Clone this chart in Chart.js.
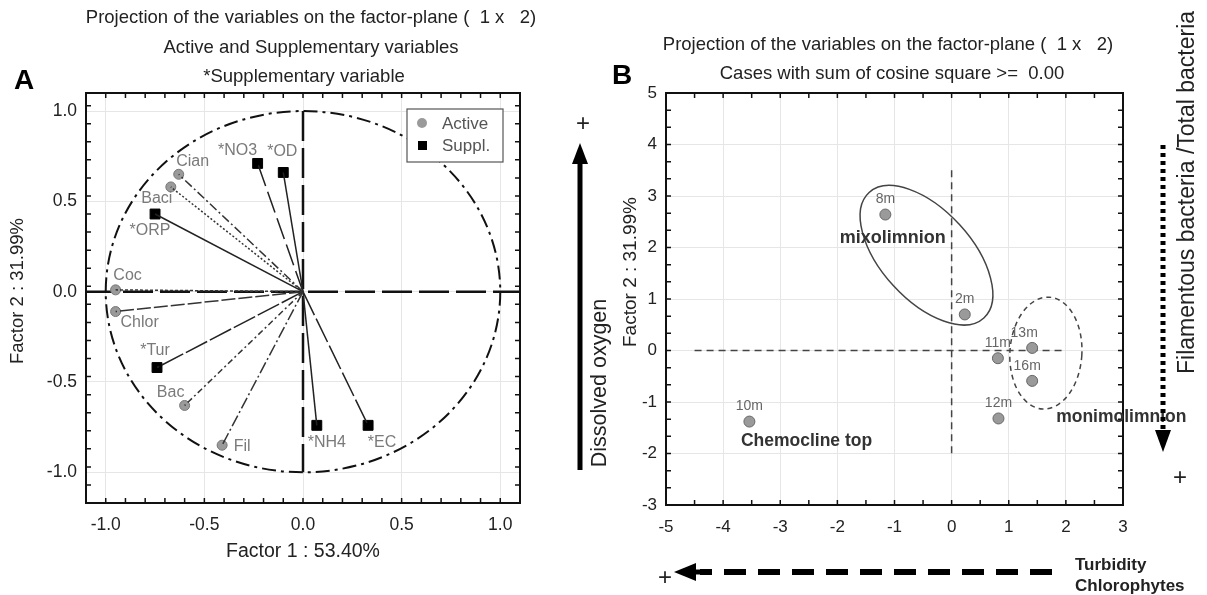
<!DOCTYPE html>
<html>
<head>
<meta charset="utf-8">
<script src="https://cdn.jsdelivr.net/npm/chart.js@4/dist/chart.umd.min.js"></script>
<style>
  body { margin: 0; background: #fff; width: 1207px; height: 595px; overflow: hidden; position: relative; }
  #chartA { position: absolute; left: 0; top: 0; }
  #chartB { position: absolute; left: 560px; top: 0; }
</style>
</head>
<body>
<canvas id="chartA" width="560" height="595"></canvas>
<canvas id="chartB" width="647" height="595"></canvas>
<script>
// PANEL A - variables
const activeNames = ['Cian', 'Baci', 'Coc', 'Chlor', 'Bac', 'Fil'];
const activeF1 = [-0.63, -0.67, -0.95, -0.95, -0.60, -0.41];
const activeF2 = [0.65, 0.58, 0.01, -0.11, -0.63, -0.85];
const supplNames = ['*NO3', '*OD', '*ORP', '*Tur', '*NH4', '*EC'];
const supplF1 = [-0.23, -0.10, -0.75, -0.74, 0.07, 0.33];
const supplF2 = [0.71, 0.66, 0.43, -0.42, -0.74, -0.74];
const ticksA = [-1.0, -0.5, 0.0, 0.5, 1.0];

// PANEL B - cases
const caseNames = ['8m', '2m', '11m', '13m', '16m', '12m', '10m'];
const caseF1 = [-1.16, 0.23, 0.81, 1.41, 1.41, 0.82, -3.54];
const caseF2 = [2.64, 0.70, -0.15, 0.05, -0.59, -1.32, -1.38];
const ticksBx = [-5, -4, -3, -2, -1, 0, 1, 2, 3];
const ticksBy = [-3, -2, -1, 0, 1, 2, 3, 4, 5];

// styles
const activeDash = [[9, 3, 2, 3], [2, 2], [3, 2], [14, 3], [6, 3, 2, 3], [12, 3, 2, 3]];
const supplDash = [[22, 6], [], [], [24, 3], [], [26, 4]];
const activeLabelOff = [[14, -13], [-14, 12], [12, -14], [24, 11], [-14, -13], [20, 1]];
const supplLabelOff = [[-20, -13], [-1, -21], [-5, 17], [-2, -17], [10, 17], [14, 17]];
const caseLabelDx = [0, 0, 0, -8, -5, 0, 0];

const FONT = '"Liberation Sans", Arial, sans-serif';
Chart.defaults.font.family = FONT;
Chart.defaults.color = '#222';

function txt(ctx, s, x, y, size, color, opt) {
    opt = opt || {};
    ctx.save();
    ctx.font = (opt.bold ? 'bold ' : '') + size + 'px ' + FONT;
    ctx.fillStyle = color;
    ctx.textAlign = opt.align || 'center';
    ctx.textBaseline = 'middle';
    ctx.translate(x, y);
    if (opt.rot) ctx.rotate(opt.rot);
    ctx.fillText(s, 0, 0);
    ctx.restore();
}

function frameAndTicks(chart, xStep, yStep) {
    const {ctx, chartArea: a, scales: {x, y}} = chart;
    ctx.save();
    ctx.strokeStyle = '#111';
    ctx.lineWidth = 1.5;
    ctx.beginPath();
    for (let v = x.min; v <= x.max + 1e-9; v += xStep) {
        const px = x.getPixelForValue(v);
        ctx.moveTo(px, a.bottom); ctx.lineTo(px, a.bottom - 5);
        ctx.moveTo(px, a.top); ctx.lineTo(px, a.top + 5);
    }
    for (let v = y.min; v <= y.max + 1e-9; v += yStep) {
        const py = y.getPixelForValue(v);
        ctx.moveTo(a.left, py); ctx.lineTo(a.left + 5, py);
        ctx.moveTo(a.right, py); ctx.lineTo(a.right - 5, py);
    }
    ctx.stroke();
    ctx.lineWidth = 2;
    ctx.strokeRect(a.left, a.top, a.right - a.left, a.bottom - a.top);
    ctx.restore();
}

function fixedTicks(values) {
    return scale => { scale.ticks = values.map(v => ({value: v})); };
}

// ---------- CHART A ----------
const setsA = [];
activeNames.forEach((n, i) => setsA.push({
    type: 'line', data: [{x: 0, y: 0}, {x: activeF1[i], y: activeF2[i]}],
    borderColor: '#333', borderWidth: 1.5, borderDash: activeDash[i], pointRadius: 0
}));
supplNames.forEach((n, i) => setsA.push({
    type: 'line', data: [{x: 0, y: 0}, {x: supplF1[i], y: supplF2[i]}],
    borderColor: '#222', borderWidth: 1.5, borderDash: supplDash[i], pointRadius: 0
}));
setsA.push({
    label: 'Active', data: activeF1.map((v, i) => ({x: v, y: activeF2[i]})),
    pointStyle: 'circle', pointRadius: 5, backgroundColor: '#9a9a9a', borderColor: '#777', borderWidth: 1
});
setsA.push({
    label: 'Suppl.', data: supplF1.map((v, i) => ({x: v, y: supplF2[i]})),
    pointStyle: 'rect', pointRadius: 7, backgroundColor: '#000', borderColor: '#000', borderWidth: 1
});

const decorA = {
    id: 'decorA',
    beforeDatasetsDraw(chart) {
        const {ctx, chartArea: a, scales: {x, y}} = chart;
        const x0 = x.getPixelForValue(0), y0 = y.getPixelForValue(0);
        const rx = x.getPixelForValue(1) - x0, ry = y0 - y.getPixelForValue(1);
        ctx.save();
        ctx.strokeStyle = '#111';
        ctx.lineWidth = 2;
        ctx.setLineDash([14, 5, 3, 5]);
        ctx.beginPath();
        ctx.ellipse(x0, y0, rx, ry, 0, 0, Math.PI * 2);
        ctx.stroke();
        ctx.lineWidth = 2.5;
        ctx.setLineDash([30, 7]);
        ctx.beginPath();
        ctx.moveTo(x0, y.getPixelForValue(1)); ctx.lineTo(x0, y.getPixelForValue(-1));
        ctx.moveTo(a.left, y0); ctx.lineTo(a.right, y0);
        ctx.stroke();
        ctx.restore();
    },
    afterDraw(chart) {
        const {ctx} = chart;
        frameAndTicks(chart, 0.1, 0.1);
        const nA = activeNames.length + supplNames.length;
        const act = chart.getDatasetMeta(nA).data;
        const sup = chart.getDatasetMeta(nA + 1).data;
        act.forEach((p, i) => txt(ctx, activeNames[i], p.x + activeLabelOff[i][0], p.y + activeLabelOff[i][1], 16, '#7a7a7a'));
        sup.forEach((p, i) => txt(ctx, supplNames[i], p.x + supplLabelOff[i][0], p.y + supplLabelOff[i][1], 16, '#7a7a7a'));

        // legend
        ctx.save();
        ctx.fillStyle = '#fff';
        ctx.fillRect(407, 109, 96, 53);
        ctx.strokeStyle = '#555';
        ctx.lineWidth = 1.2;
        ctx.strokeRect(407, 109, 96, 53);
        ctx.fillStyle = '#9a9a9a';
        ctx.beginPath(); ctx.arc(422, 123, 5, 0, Math.PI * 2); ctx.fill();
        ctx.fillStyle = '#000';
        ctx.fillRect(418, 141, 9, 9);
        ctx.restore();
        txt(ctx, 'Active', 442, 124, 17, '#555', {align: 'left'});
        txt(ctx, 'Suppl.', 442, 146, 17, '#555', {align: 'left'});

        // titles
        txt(ctx, 'Projection of the variables on the factor-plane (  1 x   2)', 311, 18, 18.5, '#222');
        txt(ctx, 'Active and Supplementary variables', 311, 48, 18.5, '#222');
        txt(ctx, '*Supplementary variable', 304, 77, 18.5, '#222');
        txt(ctx, 'A', 24, 81, 28, '#000', {bold: true});
        txt(ctx, 'Factor 2 : 31.99%', 18, 291, 18.5, '#222', {rot: -Math.PI / 2});
        txt(ctx, 'Factor 1 : 53.40%', 303, 552, 19.5, '#222');
    }
};

new Chart(document.getElementById('chartA'), {
    type: 'scatter',
    data: {datasets: setsA},
    options: {
        responsive: false,
        animation: false,
        layout: {padding: {top: 93, right: 40, left: 0, bottom: 0}},
        plugins: {legend: {display: false}, tooltip: {enabled: false}},
        scales: {
            x: {
                type: 'linear', min: -1.1, max: 1.1,
                afterBuildTicks: fixedTicks(ticksA),
                afterFit: s => { s.height = 92; },
                ticks: {callback: v => v.toFixed(1), font: {size: 17.5}, padding: 12, color: '#222'},
                grid: {color: '#e6e6e6', drawTicks: false},
                border: {display: false}
            },
            y: {
                type: 'linear', min: -1.17, max: 1.1,
                afterBuildTicks: fixedTicks(ticksA),
                afterFit: s => { s.width = 86; },
                ticks: {callback: v => v.toFixed(1), font: {size: 17.5}, padding: 9, color: '#222'},
                grid: {color: '#e6e6e6', drawTicks: false},
                border: {display: false}
            }
        }
    },
    plugins: [decorA]
});

// ---------- CHART B ----------
const mixoCentre = {x: -0.44, y: 1.85};
const monoCentre = {x: 1.65, y: -0.05};

const decorB = {
    id: 'decorB',
    beforeDatasetsDraw(chart) {
        const {ctx, scales: {x, y}} = chart;
        ctx.save();
        ctx.strokeStyle = '#444';
        ctx.lineWidth = 1.5;
        ctx.setLineDash([7, 5]);
        ctx.beginPath();
        ctx.moveTo(x.getPixelForValue(0), y.getPixelForValue(3.5));
        ctx.lineTo(x.getPixelForValue(0), y.getPixelForValue(-2));
        ctx.moveTo(x.getPixelForValue(-4.5), y.getPixelForValue(0));
        ctx.lineTo(x.getPixelForValue(2), y.getPixelForValue(0));
        ctx.stroke();
        ctx.setLineDash([]);
        ctx.beginPath();
        ctx.ellipse(x.getPixelForValue(mixoCentre.x), y.getPixelForValue(mixoCentre.y), 85, 45, 0.83, 0, Math.PI * 2);
        ctx.stroke();
        ctx.setLineDash([5, 4]);
        ctx.beginPath();
        ctx.ellipse(x.getPixelForValue(monoCentre.x), y.getPixelForValue(monoCentre.y), 36, 56, 0.06, 0, Math.PI * 2);
        ctx.stroke();
        ctx.restore();
    },
    afterDraw(chart) {
        const {ctx, scales: {x, y}} = chart;
        frameAndTicks(chart, 0.5, 1 / 3);
        chart.getDatasetMeta(0).data.forEach((p, i) =>
            txt(ctx, caseNames[i], p.x + caseLabelDx[i], p.y - 15, 14, '#666'));
        txt(ctx, 'mixolimnion', x.getPixelForValue(-1.03), y.getPixelForValue(2.18), 18, '#333', {bold: true});
        txt(ctx, 'Chemocline top', x.getPixelForValue(-2.54), y.getPixelForValue(-1.77), 17.5, '#333', {bold: true});
        txt(ctx, 'monimolimnion', x.getPixelForValue(2.97), y.getPixelForValue(-1.29), 17.5, '#333', {bold: true});

        // titles
        txt(ctx, 'Projection of the variables on the factor-plane (  1 x   2)', 328, 45, 18.5, '#222');
        txt(ctx, 'Cases with sum of cosine square >=  0.00', 332, 74, 18.5, '#222');
        txt(ctx, 'B', 62, 76, 28, '#000', {bold: true});
        txt(ctx, 'Factor 2 : 31.99%', 71, 272, 19, '#222', {rot: -Math.PI / 2});

        ctx.save();
        ctx.fillStyle = '#000';
        ctx.strokeStyle = '#000';
        // dissolved oxygen arrow
        ctx.lineWidth = 5;
        ctx.beginPath(); ctx.moveTo(20, 470); ctx.lineTo(20, 160); ctx.stroke();
        ctx.beginPath(); ctx.moveTo(20, 143); ctx.lineTo(12, 164); ctx.lineTo(28, 164); ctx.closePath(); ctx.fill();
        // turbidity arrow
        ctx.lineWidth = 6;
        ctx.setLineDash([22, 12]);
        ctx.beginPath(); ctx.moveTo(492, 572); ctx.lineTo(140, 572); ctx.stroke();
        ctx.setLineDash([]);
        ctx.beginPath(); ctx.moveTo(114, 572); ctx.lineTo(136, 563); ctx.lineTo(136, 581); ctx.closePath(); ctx.fill();
        ctx.lineWidth = 5;
        ctx.beginPath(); ctx.moveTo(134, 572); ctx.lineTo(150, 572); ctx.stroke();
        // filamentous arrow
        ctx.lineWidth = 5;
        ctx.setLineDash([4, 4]);
        ctx.beginPath(); ctx.moveTo(603, 145); ctx.lineTo(603, 430); ctx.stroke();
        ctx.setLineDash([]);
        ctx.beginPath(); ctx.moveTo(603, 452); ctx.lineTo(595, 430); ctx.lineTo(611, 430); ctx.closePath(); ctx.fill();
        ctx.restore();

        txt(ctx, '+', 23, 124, 24, '#222');
        txt(ctx, '+', 105, 578, 24, '#222');
        txt(ctx, '+', 620, 478, 24, '#222');
        txt(ctx, 'Dissolved oxygen', 40, 383, 21.5, '#222', {rot: -Math.PI / 2});
        txt(ctx, 'Filamentous bacteria /Total bacteria', 628, 374, 23, '#222', {rot: -Math.PI / 2, align: 'left'});
        txt(ctx, 'Turbidity', 515, 565, 17, '#222', {bold: true, align: 'left'});
        txt(ctx, 'Chlorophytes', 515, 586, 17, '#222', {bold: true, align: 'left'});
    }
};

new Chart(document.getElementById('chartB'), {
    type: 'scatter',
    data: {
        datasets: [{
            label: 'Cases',
            data: caseF1.map((v, i) => ({x: v, y: caseF2[i]})),
            pointStyle: 'circle', pointRadius: 5.5,
            backgroundColor: '#9a9a9a', borderColor: '#666', borderWidth: 1
        }]
    },
    options: {
        responsive: false,
        animation: false,
        layout: {padding: {top: 93, right: 84, left: 0, bottom: 0}},
        plugins: {legend: {display: false}, tooltip: {enabled: false}},
        scales: {
            x: {
                type: 'linear', min: -5, max: 3,
                afterBuildTicks: fixedTicks(ticksBx),
                afterFit: s => { s.height = 90; },
                ticks: {font: {size: 17}, padding: 12, color: '#222'},
                grid: {color: '#e6e6e6', drawTicks: false},
                border: {display: false}
            },
            y: {
                type: 'linear', min: -3, max: 5,
                afterBuildTicks: fixedTicks(ticksBy),
                afterFit: s => { s.width = 106; },
                ticks: {font: {size: 17}, padding: 9, color: '#222'},
                grid: {color: '#e6e6e6', drawTicks: false},
                border: {display: false}
            }
        }
    },
    plugins: [decorB]
});
</script>
</body>
</html>
